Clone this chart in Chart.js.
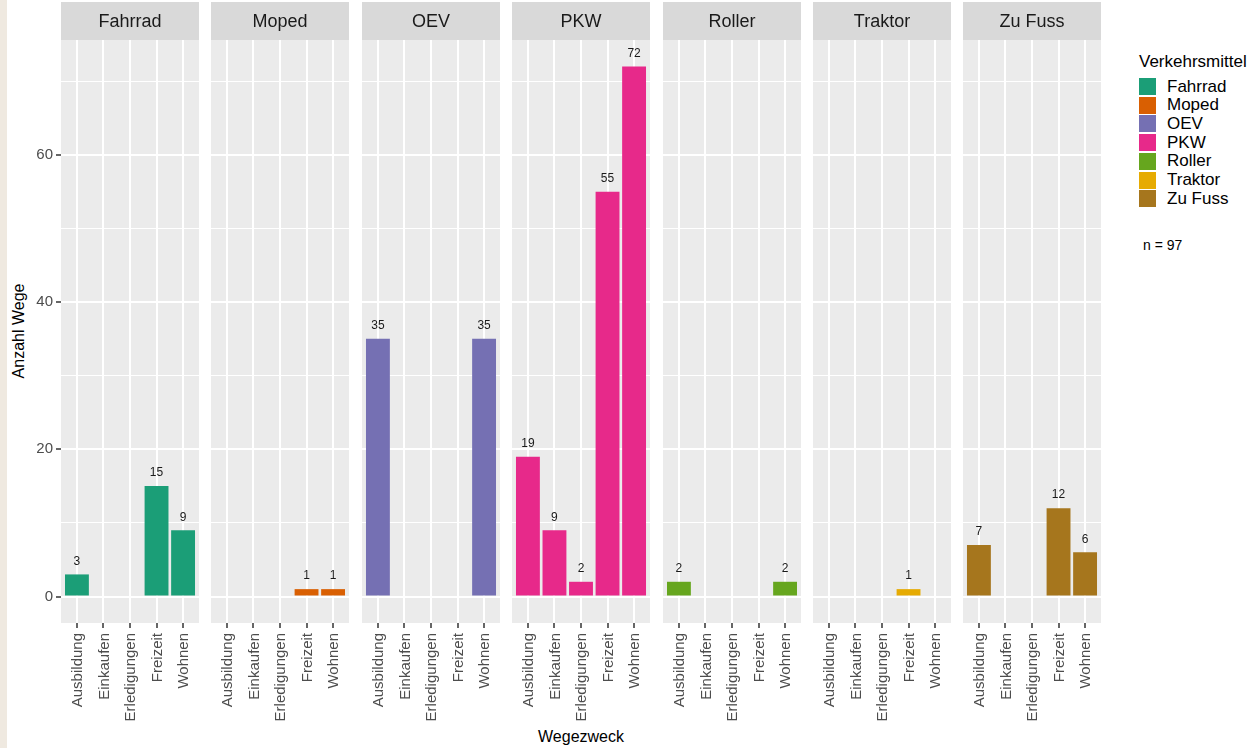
<!DOCTYPE html>
<html>
<head>
<meta charset="utf-8">
<script src="https://cdn.jsdelivr.net/npm/chart.js@4"></script>
<style>
  body { margin: 0; background: #fff; font-family: "Liberation Sans", Arial, sans-serif; }
  #wrap { position: relative; width: 1254px; height: 748px; overflow: hidden; }
  #edge { position: absolute; left: 0; top: 0; width: 7px; height: 748px; background: #efe9e0; }
  canvas { position: absolute; top: 0; }
  .txt { position: absolute; white-space: nowrap; color: #000; }
  .key { position: absolute; width: 17px; height: 17px; }
</style>
</head>
<body>
<div id="wrap">
  <div id="edge"></div>
  <div class="txt" id="ytitle" style="left:19px; top:331px; font-size:16px; transform: translate(-50%, -50%) rotate(-90deg);">Anzahl Wege</div>
  <div class="txt" style="left:581px; top:737px; font-size:16px; transform: translate(-50%, -50%);">Wegezweck</div>
  <div id="legend"></div>
</div>
<script>
// Wegezweck categories (x axis of each panel)
const purposes = ['Ausbildung', 'Einkaufen', 'Erledigungen', 'Freizeit', 'Wohnen'];

// Verkehrsmittel (one panel each)
const modes = ['Fahrrad', 'Moped', 'OEV', 'PKW', 'Roller', 'Traktor', 'Zu Fuss'];
const modeColors = ['#1b9e77', '#d95f02', '#7570b3', '#e7298a', '#66a61e', '#e6ab02', '#a6761d'];

// counts per purpose, null = no bar
const fahrrad = [3, null, null, 15, 9];
const moped = [null, null, null, 1, 1];
const oev = [35, null, null, null, 35];
const pkw = [19, 9, 2, 55, 72];
const roller = [2, null, null, null, 2];
const traktor = [null, null, null, 1, null];
const zuFuss = [7, null, null, 12, 6];
const counts = [fahrrad, moped, oev, pkw, roller, traktor, zuFuss];

const yTicks = [0, 20, 40, 60];
const sampleSize = 97;

const wrap = document.getElementById('wrap');

// grey panel background
const panelBg = {
  id: 'panelBg',
  beforeDraw(chart) {
    const a = chart.chartArea;
    const c = chart.ctx;
    c.save();
    c.fillStyle = '#ebebeb';
    c.fillRect(a.left, a.top, a.right - a.left, a.bottom - a.top);
    c.restore();
  }
};

// facet strip on top of the panel
const strip = {
  id: 'strip',
  afterDraw(chart, args, opts) {
    const a = chart.chartArea;
    const c = chart.ctx;
    c.save();
    c.fillStyle = '#d9d9d9';
    c.fillRect(a.left, 2, a.right - a.left, a.top - 2);
    c.fillStyle = '#1a1a1a';
    c.font = '18px "Liberation Sans", Arial, sans-serif';
    c.textAlign = 'center';
    c.textBaseline = 'middle';
    c.fillText(opts.text, (a.left + a.right) / 2, (a.top + 2) / 2 + 1);
    c.restore();
  }
};

// count labels above the bars
const barLabels = {
  id: 'barLabels',
  afterDatasetsDraw(chart) {
    const c = chart.ctx;
    c.save();
    c.fillStyle = '#1a1a1a';
    c.font = '12px "Liberation Sans", Arial, sans-serif';
    c.textAlign = 'center';
    c.textBaseline = 'bottom';
    chart.data.datasets.forEach((ds, di) => {
      chart.getDatasetMeta(di).data.forEach((bar, i) => {
        c.fillText(ds.data[i].y, bar.x, bar.y - 7);
      });
    });
    c.restore();
  }
};

modes.forEach((mode, i) => {
  const first = i === 0;
  const panelLeft = Math.round(61 + i * 150.4);
  const left = first ? 0 : panelLeft;
  const width = first ? 61 + 138 : 138;

  const canvas = document.createElement('canvas');
  canvas.width = width;
  canvas.height = 748;
  canvas.style.left = left + 'px';
  wrap.appendChild(canvas);

  const points = [];
  counts[i].forEach((v, k) => {
    if (v !== null) points.push({ x: k + 1, y: v });
  });

  new Chart(canvas.getContext('2d'), {
    type: 'bar',
    data: {
      datasets: [{
        label: mode,
        data: points,
        backgroundColor: modeColors[i],
        borderWidth: 0,
        barPercentage: 0.9,
        categoryPercentage: 1.0
      }]
    },
    options: {
      responsive: false,
      animation: false,
      events: [],
      layout: { padding: { top: 40, left: 0, right: 0, bottom: 0 } },
      plugins: {
        legend: { display: false },
        tooltip: { enabled: false },
        strip: { text: mode }
      },
      scales: {
        x: {
          type: 'linear',
          min: 0.4,
          max: 5.6,
          offset: false,
          afterFit: s => {
            s.height = 125;
            s.paddingLeft = 0;
            s.paddingRight = 0;
          },
          border: { display: false },
          grid: {
            offset: false,
            color: '#ffffff',
            lineWidth: 2,
            drawTicks: true,
            tickLength: 5,
            tickColor: '#333333',
            tickWidth: 1.5
          },
          ticks: {
            stepSize: 1,
            includeBounds: false,
            autoSkip: false,
            minRotation: 90,
            maxRotation: 90,
            padding: 5,
            labelOffset: 1,
            color: '#4d4d4d',
            font: { family: '"Liberation Sans", Arial, sans-serif', size: 15 },
            callback: v => purposes[Math.round(v) - 1]
          }
        },
        y: {
          min: -3.6,
          max: 75.6,
          afterFit: s => {
            s.width = first ? 61 : 0;
            s.paddingTop = 0;
            s.paddingBottom = 0;
          },
          border: { display: false },
          grid: {
            color: '#ffffff',
            lineWidth: ctx => (yTicks.includes(ctx.tick.value) ? 2 : 1),
            drawTicks: first,
            tickLength: 5,
            tickWidth: 1.5,
            tickColor: ctx => (yTicks.includes(ctx.tick.value) ? '#333333' : 'rgba(0,0,0,0)')
          },
          ticks: {
            display: first,
            stepSize: 10,
            includeBounds: false,
            padding: 3,
            color: '#4d4d4d',
            font: { family: '"Liberation Sans", Arial, sans-serif', size: 15 },
            callback: v => (yTicks.includes(v) ? v : '')
          }
        }
      }
    },
    plugins: [panelBg, strip, barLabels]
  });
});

// legend
const legend = document.getElementById('legend');
let html = '<div class="txt" style="left:1139px; top:62px; font-size:17px; transform: translateY(-50%);">Verkehrsmittel</div>';
modes.forEach((mode, k) => {
  const top = 78 + k * 18.7;
  html += '<div class="key" style="left:1139px; top:' + top + 'px; background:' + modeColors[k] + ';"></div>';
  html += '<div class="txt" style="left:1167px; top:' + (top + 8.5) + 'px; font-size:17px; transform: translateY(-50%);">' + mode + '</div>';
});
html += '<div class="txt" style="left:1143px; top:245px; font-size:14px; transform: translateY(-50%);">n = ' + sampleSize + '</div>';
legend.innerHTML = html;
</script>
</body>
</html>
